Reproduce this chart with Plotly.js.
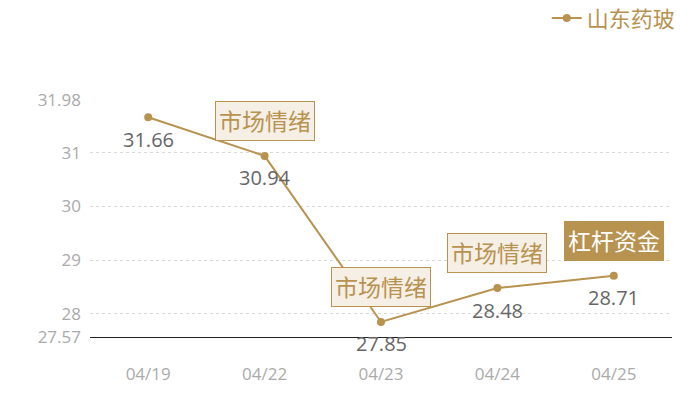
<!DOCTYPE html>
<html>
<head>
<meta charset="utf-8">
<script src="https://cdn.plot.ly/plotly-3.0.1.min.js"></script>
<style>
  html, body { margin: 0; padding: 0; background: #fff; }
  #chart { width: 700px; height: 400px; }
</style>
</head>
<body>
<div id="chart"></div>
<script>
let dates = ['04/19', '04/22', '04/23', '04/24', '04/25'];
let prices = [31.66, 30.94, 27.85, 28.48, 28.71];
let seriesName = '山东药玻';

let yTicks = [27.57, 28, 29, 30, 31, 31.98];

// event tags above points
let tagDates = ['04/22', '04/23', '04/24', '04/25'];
let tagTexts = ['市场情绪', '市场情绪', '市场情绪', '杠杆资金'];
let tagDark = [false, false, false, true];

let gold = '#b8924f';
let font = 'Open Sans, Noto Sans CJK SC, sans-serif';

let trace = {
  x: dates,
  y: prices,
  name: seriesName,
  type: 'scatter',
  mode: 'lines+markers',
  line: { color: gold, width: 2 },
  marker: { color: gold, size: 8 },
  cliponaxis: false
};

// value labels under each point
let valueLabels = dates.map((d, i) => ({
  x: d,
  y: prices[i],
  xref: 'x',
  yref: 'y',
  text: prices[i].toFixed(2),
  showarrow: false,
  yshift: -22,
  font: { size: 20, color: '#666', family: font }
}));

let tags = tagDates.map((d, i) => ({
  x: d,
  y: prices[dates.indexOf(d)],
  xref: 'x',
  yref: 'y',
  text: tagTexts[i],
  showarrow: false,
  yshift: 35,
  font: { size: 23, color: tagDark[i] ? '#fff' : gold, family: font },
  bgcolor: tagDark[i] ? gold : '#f5efe6',
  bordercolor: gold,
  borderwidth: 1,
  borderpad: 3
}));

Plotly.newPlot('chart', [trace], {
  width: 700,
  height: 400,
  margin: { l: 90, r: 28, t: 100, b: 63, autoexpand: false },
  paper_bgcolor: '#fff',
  plot_bgcolor: '#fff',
  font: { family: font },
  showlegend: true,
  legend: {
    orientation: 'h',
    x: 1.015, xanchor: 'right',
    y: 1.345, yanchor: 'middle',
    font: { size: 22, color: gold, family: font }
  },
  xaxis: {
    type: 'category',
    range: [-0.5, 4.5],
    showgrid: false,
    zeroline: false,
    showline: true,
    linecolor: '#222',
    linewidth: 1,
    ticks: '',
    tickfont: { size: 17, color: '#aaa' },
    ticklabelstandoff: 22
  },
  yaxis: {
    range: [27.57, 31.98],
    tickmode: 'array',
    tickvals: yTicks,
    ticktext: yTicks.map(String),
    showgrid: true,
    gridcolor: '#d8d8d8',
    griddash: 'dot',
    zeroline: false,
    showline: false,
    ticks: '',
    tickfont: { size: 17, color: '#aaa' },
    ticklabelstandoff: 8
  },
  annotations: valueLabels.concat(tags)
}, { displayModeBar: false });
</script>
</body>
</html>
